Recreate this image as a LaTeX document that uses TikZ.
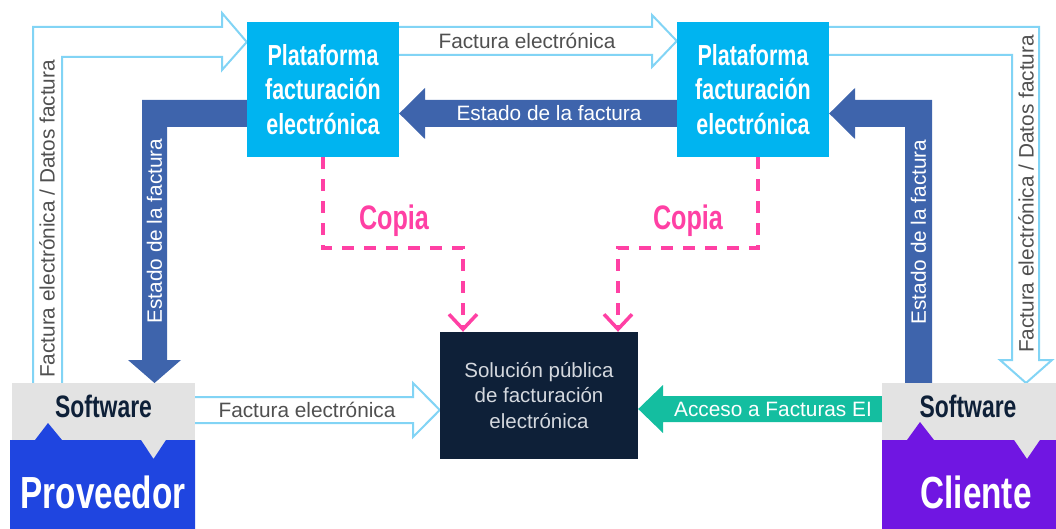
\documentclass[tikz,border=0pt]{standalone}
\usepackage{fontspec}
\setmainfont{Liberation Sans}
\newfontfamily\cond{Liberation Sans}[FakeStretch=0.74]
\usetikzlibrary{arrows.meta,calc}
\definecolor{cyanbox}{RGB}{0,180,240}
\definecolor{darkarrow}{RGB}{62,100,172}
\definecolor{lightline}{RGB}{130,212,245}
\definecolor{navy}{RGB}{14,32,56}
\definecolor{swgray}{RGB}{227,227,227}
\definecolor{provblue}{RGB}{31,69,224}
\definecolor{clipurple}{RGB}{112,22,226}
\definecolor{accgreen}{RGB}{20,190,160}
\definecolor{copink}{RGB}{255,64,164}
\definecolor{txtgray}{RGB}{80,80,80}
\definecolor{soltxt}{RGB}{212,216,222}
\pgfdeclarelayer{bg}
\pgfsetlayers{bg,main}
\begin{document}
\begin{tikzpicture}[x=1pt,y=-1pt,
  plat/.style={fill=cyanbox, text=white, minimum width=152pt, minimum height=135pt, inner sep=0pt, align=center, font=\cond\bfseries\fontsize{29}{34.5}\selectfont},
  solbox/.style={fill=navy, text=soltxt, minimum width=198pt, minimum height=127pt, inner sep=0pt, align=center, font=\fontsize{20.5}{25.5}\selectfont},
  swbox/.style={fill=swgray, minimum width=183pt, minimum height=77pt, inner sep=0pt},
  swtext/.style={text=navy, inner sep=0pt, font=\cond\bfseries\fontsize{31}{33}\selectfont},
  bigtext/.style={text=white, inner sep=0pt, font=\cond\bfseries\fontsize{45}{47}\selectfont},
  darr/.style={fill=darkarrow},
  larr/.style={draw=lightline, line width=2pt, fill=white, line join=miter},
  garr/.style={fill=accgreen},
  lbl/.style={text=txtgray, inner sep=0pt, font=\fontsize{20.8}{23}\selectfont},
  wlbl/.style={text=white, inner sep=0pt, font=\fontsize{20.8}{23}\selectfont},
  copia/.style={draw=copink, line width=3.5pt, dash pattern=on 12pt off 10pt, -{Straight Barb[length=15pt,width=28pt]}},
  copialbl/.style={text=copink, inner sep=0pt, font=\cond\bfseries\fontsize{34}{36}\selectfont}
]
\useasboundingbox (0,0) rectangle (1056,529);

% main boxes
\node[plat] (lp) at (323,89.5) {Plataforma\\facturación\\electrónica};
\node[plat] (rp) at (753,89.5) {Plataforma\\facturación\\electrónica};
\node[solbox] (sol) at (539,395.5) {Solución pública\\de facturación\\electrónica};

% software / provider / client
\node[swbox] (swl) at (103.5,421.5) {};
\fill[provblue] (10,529) -- (10,440) -- (35,440) -- (48,423) -- (62,440) -- (141,440) -- (153.5,459) -- (166,440) -- (195,440) -- (195,529) -- cycle;
\node[swtext] (swlt) at (103.5,406) {Software};
\node[bigtext] (prov) at (103,492) {Proveedor};

\node[swbox, minimum width=174pt] (swr) at (969,421.5) {};
\fill[clipurple] (882,529) -- (882,440) -- (907,440) -- (920,422) -- (934,440) -- (1014,440) -- (1027,459) -- (1040,440) -- (1056,440) -- (1056,529) -- cycle;
\node[swtext] (swrt) at (968,406) {Software};
\node[bigtext] (cli) at (976,492) {Cliente};

\begin{pgfonlayer}{bg}
% left outline arrow (up then right)
\draw[larr] (33,383) -- (33,27) -- (222,27) -- (222,13) -- (lp.west |- 0,42) -- (222,70) -- (222,57) -- (62,57) -- (62,383);
% left dark arrow (left then down)
\fill[darr] (lp.west |- 0,100) -- (142,100) -- (142,360) -- (128,360) -- (154.5,383) -- (181,360) -- (167,360) -- (167,127) -- (lp.west |- 0,127) -- cycle;
% top middle outline arrow
\draw[larr] (lp.east |- 0,27) -- (652,27) -- (652,15) -- (rp.west |- 0,41) -- (652,67) -- (652,55) -- (lp.east |- 0,55);
% middle dark arrow
\fill[darr] (rp.west |- 0,100) -- (425,100) -- (425,88) -- (lp.east |- 0,113.5) -- (425,139) -- (425,127) -- (rp.west |- 0,127) -- cycle;
% right outline arrow (right then down)
\draw[larr] (rp.east |- 0,27) -- (1039,27) -- (1039,360) -- (1052,360) -- (1026,383) -- (1000,360) -- (1012,360) -- (1012,55) -- (rp.east |- 0,55);
% right dark arrow (up then left)
\fill[darr] (905,383) -- (905,127) -- (855,127) -- (855,139) -- (rp.east |- 0,113.5) -- (855,88) -- (855,100) -- (932,100) -- (932,383) -- cycle;
% bottom outline arrow
\draw[larr] (swl.east |- 0,397) -- (413,397) -- (413,383) -- (sol.west |- 0,410) -- (413,437) -- (413,423) -- (swl.east |- 0,423);
% green arrow
\fill[garr] (swr.west |- 0,396) -- (663,396) -- (663,385) -- (sol.east |- 0,409) -- (663,433) -- (663,422) -- (swr.west |- 0,422) -- cycle;
\end{pgfonlayer}

% arrow labels
\node[lbl, rotate=90] (l1) at (47,219) {Factura electrónica / Datos factura};
\node[wlbl, rotate=90] (l2) at (154.5,231) {Estado de la factura};
\node[lbl] (l3) at (527,41) {Factura electrónica};
\node[wlbl] (l4) at (549,113.5) {Estado de la factura};
\node[lbl, rotate=90] (l5) at (1026,194) {Factura electrónica / Datos factura};
\node[wlbl, rotate=90] (l6) at (918.5,232) {Estado de la factura};
\node[lbl] (l7) at (307,410) {Factura electrónica};
\node[wlbl] (l8) at (773,409) {Acceso a Facturas EI};

% copies
\draw[copia] (lp.south) -- (lp.south |- 0,248) -- (463,248) -- (sol.north -| 463,0);
\draw[copia] ([xshift=5pt]rp.south) -- (758,248) -- (618,248) -- (sol.north -| 618,0);
\node[copialbl] (c1) at (394,221) {Copia};
\node[copialbl] (c2) at (688,221) {Copia};
\end{tikzpicture}
\end{document}
